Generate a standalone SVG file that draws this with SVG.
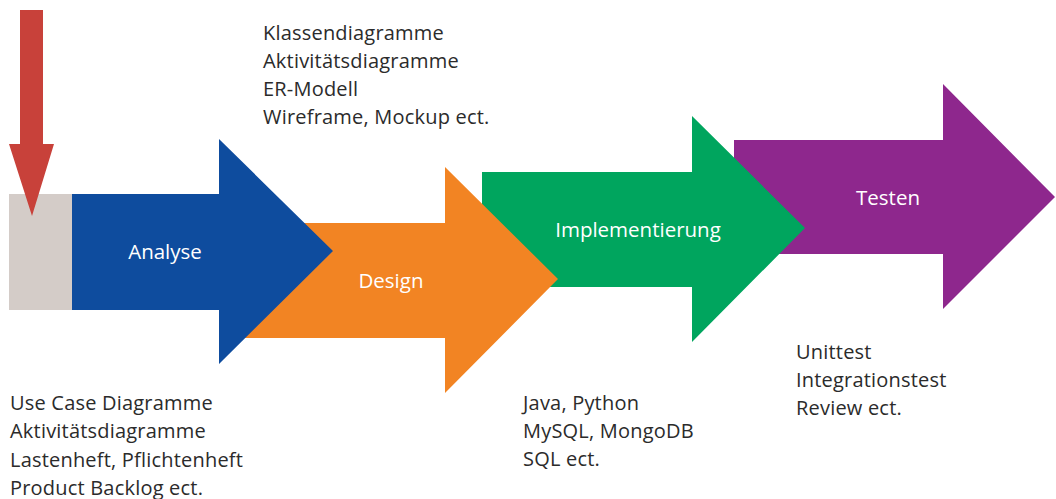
<svg xmlns="http://www.w3.org/2000/svg" width="1056" height="499" viewBox="0 0 1056 499">
<style>
.note{font-family:"Open Sans","Noto Sans","Liberation Sans",sans-serif;font-size:20px;letter-spacing:0.2px;fill:#2b2b2b}
.lbl{font-family:"Open Sans","Noto Sans","Liberation Sans",sans-serif;font-size:20.5px;fill:#ffffff;text-anchor:middle}
</style>
<rect width="1056" height="499" fill="#ffffff"/>
<g id="testen">
<polygon points="734,140 943,140 943,84 1055,197 943,309 943,254 734,254" fill="#8E278D"/>
<text class="lbl" x="888" y="205">Testen</text>
</g>
<g id="implementierung">
<polygon points="482,172 692,172 692,116 805,228 692,342 692,287 482,287" fill="#00A55E"/>
<text class="lbl" x="638" y="237">Implementierung</text>
</g>
<g id="design">
<polygon points="240,223 445,223 445,167 558,279 445,393 445,338 240,338" fill="#F28423"/>
<text class="lbl" x="391" y="288">Design</text>
</g>
<g id="analyse">
<polygon points="72,194 219,194 219,139 333,251 219,364 219,310 72,310" fill="#0E4C9E"/>
<text class="lbl" x="165" y="259">Analyse</text>
</g>
<g id="start">
<rect x="9" y="194" width="63" height="116" fill="#D4CCC8"/>
</g>
<g id="connectors">
<polygon points="20,10 43,10 43,144 54,144 32,216 9,144 20,144" fill="#C8413A"/>
</g>
<g id="notes">
<text class="note"><tspan x="263" y="40">Klassendiagramme</tspan><tspan x="263" y="68">Aktivitätsdiagramme</tspan><tspan x="263" y="96">ER-Modell</tspan><tspan x="263" y="124">Wireframe, Mockup ect.</tspan></text>
<text class="note"><tspan x="10" y="410">Use Case Diagramme</tspan><tspan x="10" y="438">Aktivitätsdiagramme</tspan><tspan x="10" y="467">Lastenheft, Pflichtenheft</tspan><tspan x="10" y="495">Product Backlog ect.</tspan></text>
<text class="note"><tspan x="523" y="410">Java, Python</tspan><tspan x="523" y="438">MySQL, MongoDB</tspan><tspan x="523" y="466">SQL ect.</tspan></text>
<text class="note"><tspan x="796" y="359">Unittest</tspan><tspan x="796" y="387">Integrationstest</tspan><tspan x="796" y="415">Review ect.</tspan></text>
</g>
</svg>
